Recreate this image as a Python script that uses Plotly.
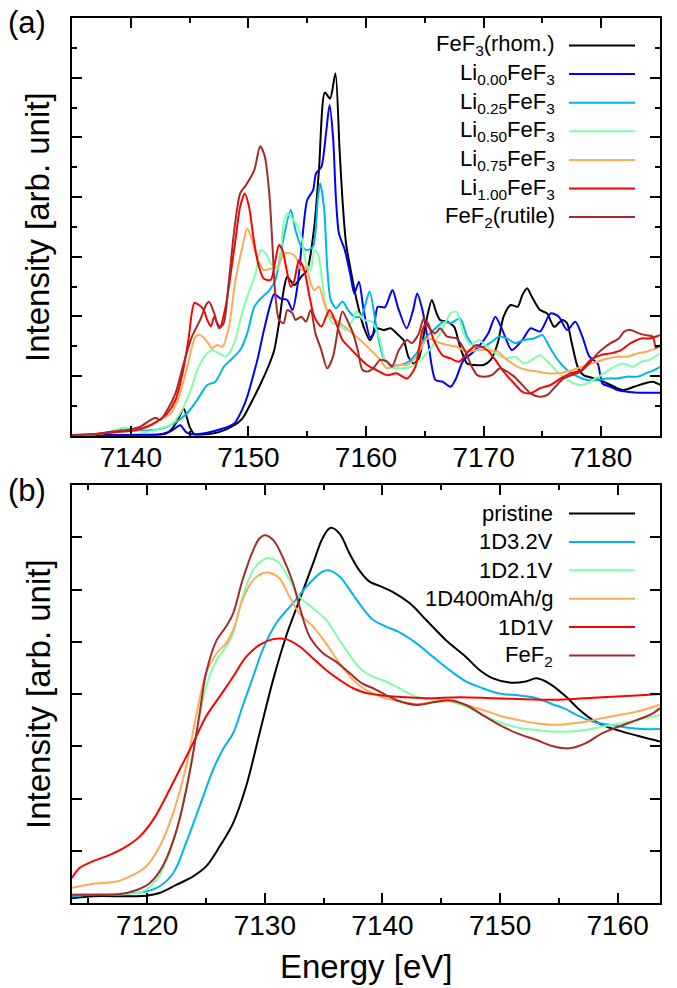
import plotly.graph_objects as go

# ---------------- (a) top panel data ----------------
black_a_x = [7135, 7138, 7141, 7142.5, 7143.3, 7143.9, 7144.5, 7145.0, 7145.4, 7146.5, 7147.5, 7148.8, 7149.5, 7150.2,
             7151.05, 7151.8, 7152.2, 7152.6, 7153.0, 7153.3, 7153.9, 7154.5, 7155.0, 7155.6, 7156.0, 7156.5, 7156.95,
             7157.4, 7157.75, 7158.0, 7158.3, 7158.7, 7159.2, 7159.8, 7160.35, 7160.9, 7161.5, 7162.1, 7162.6, 7163.2,
             7163.6, 7164.05, 7164.5, 7165.1, 7165.6, 7166.0, 7166.3, 7166.9, 7167.5, 7168.0, 7168.6, 7169.2, 7170.0,
             7170.6, 7171.2, 7171.7, 7172.3, 7172.9, 7173.3, 7173.7, 7174.1, 7174.8, 7175.4, 7176.0, 7176.7, 7177.1,
             7177.5, 7178.0, 7178.5, 7179.4, 7180.2, 7181.1, 7181.9, 7182.8, 7183.65, 7184.4, 7185]
black_a_y = [0.02, 0.02, 0.03, 0.05, 0.15, 0.45, 0.9, 0.3, 0.05, 0.05, 0.12, 0.35, 0.58, 1.08,
             1.75, 2.42, 2.87, 3.77, 4.88, 5.33, 5.05, 5.33, 5.55, 7.0, 8.9, 11.5, 11.3,
             12.15, 9.6, 7.9, 6.45, 5.55, 4.55, 3.65, 3.2, 3.6, 3.54, 3.6, 3.43, 3.2,
             2.65, 2.42, 2.6, 3.8, 4.55, 4.1, 3.88, 3.82, 3.65, 2.98, 2.42, 2.37, 2.37,
             2.54, 3.1, 3.99, 4.38, 4.32, 4.72, 4.94, 4.66, 4.21, 4.1, 3.65, 3.88, 3.77,
             3.1, 2.31, 2.03, 1.92, 1.81, 1.64, 1.53, 1.64, 1.75, 1.81, 1.7]

blue_a_x = [7135, 7140, 7142.8, 7143.6, 7144.2, 7144.7, 7145.3, 7146.5, 7147.5, 7148.8, 7149.5, 7149.9, 7150.4, 7150.8,
            7151.3, 7151.8, 7152.2, 7152.7, 7153.3, 7153.75, 7154.2, 7154.6, 7155.0, 7155.5, 7155.75, 7156.2, 7156.6,
            7156.9, 7157.2, 7157.45, 7157.7, 7158.2, 7158.7, 7159.0, 7159.4, 7159.8, 7160.35, 7160.6, 7161.0, 7161.6,
            7162.25, 7162.7, 7163.45, 7164.0, 7164.35, 7164.8, 7165.3, 7165.9, 7166.5, 7167.2, 7167.6, 7168.3, 7169.0,
            7169.7, 7170.4, 7171.0, 7171.6, 7172.4, 7173.3, 7174.0, 7174.8, 7175.7, 7176.4, 7177.1, 7177.8, 7178.4,
            7179.0, 7179.7, 7180.1, 7180.8, 7181.4, 7182.2, 7183.1, 7184.1, 7185]
blue_a_y = [0.02, 0.02, 0.05, 0.2, 0.35, 0.12, 0.04, 0.1, 0.2, 0.41, 0.9, 1.31, 2.0, 2.6,
            3.5, 4.3, 4.75, 4.6, 4.55, 4.21, 5.1, 6.67, 7.9, 8.23, 8.79, 9.0, 10.13,
            11.08, 10.0, 7.9, 6.78, 6.22, 5.33, 4.77, 5.16, 4.21, 3.3, 3.4, 4.32, 4.3,
            4.88, 4.32, 3.6, 4.2, 4.77, 4.21, 3.1, 1.87, 1.81, 1.64, 1.87, 2.54, 2.76,
            3.04, 3.43, 3.99, 3.54, 2.87, 3.21, 3.6, 3.49, 4.1, 3.99, 3.54, 3.82, 3.32,
            2.65, 2.42, 1.75, 1.64, 1.53, 1.47, 1.44, 1.44, 1.44]

lblue_a_x = [7135, 7137, 7138.5, 7139.4, 7140.1, 7141.1, 7142.2, 7143.1, 7143.9, 7144.8, 7145.65, 7146.5, 7147.2,
             7147.9, 7148.5, 7149.3, 7149.9, 7150.5, 7151.05, 7151.8, 7152.3, 7152.9, 7153.6, 7154.0, 7154.5, 7155.0,
             7155.5, 7155.9, 7156.1, 7156.45, 7156.7, 7157.0, 7157.45, 7158.0, 7158.5, 7159.0, 7159.6, 7160.3, 7160.9,
             7161.5, 7162.1, 7162.9, 7163.6, 7164.3, 7164.9, 7165.75, 7166.6, 7167.2, 7168.0, 7168.6, 7169.3, 7170.0,
             7170.7, 7171.3, 7172.0, 7172.7, 7173.4, 7174.3, 7175.0, 7175.6, 7176.3, 7177.1, 7178.0, 7178.8, 7179.7,
             7180.5, 7181.4, 7182.2, 7183.1, 7183.8, 7184.5, 7185]
lblue_a_y = [0.02, 0.05, 0.12, 0.25, 0.19, 0.17, 0.21, 0.3, 0.47, 0.75, 1.2, 1.7, 1.81,
             2.31, 2.54, 2.87, 3.43, 4.32, 4.6, 4.88, 5.22, 6.45, 7.57, 6.9, 6.34, 6.22,
             6.34, 7.9, 8.46, 7.57, 5.66, 4.55, 4.27, 4.5, 4.2, 3.99, 4.0, 4.83, 3.6,
             2.6, 2.37, 2.37, 2.48, 2.76, 3.21, 3.54, 3.82, 3.77, 3.93, 3.32, 2.98, 2.98,
             3.15, 3.32, 3.26, 3.1, 3.21, 3.26, 3.37, 2.98, 2.54, 2.2, 1.98, 1.87, 1.87,
             1.92, 1.92, 1.98, 1.98, 2.09, 2.2, 2.31]

green_a_x = [7135, 7137, 7138.2, 7138.8, 7139.4, 7140.25, 7141.4, 7142.5, 7143.4, 7144.2, 7145.1, 7145.65, 7146.35,
             7146.9, 7147.5, 7148.1, 7148.8, 7149.3, 7149.9, 7150.6, 7151.05, 7151.5, 7151.9, 7152.5, 7153.0, 7153.3,
             7153.9, 7154.5, 7154.9, 7155.3, 7155.6, 7155.9, 7156.3, 7156.7, 7157.2, 7157.7, 7158.3, 7158.9, 7159.2,
             7159.8, 7160.5, 7161.1, 7161.6, 7162.1, 7162.9, 7163.8, 7164.6, 7165.5, 7166.3, 7167.2, 7167.7, 7168.3,
             7168.9, 7169.6, 7170.3, 7171.0, 7171.9, 7172.7, 7173.4, 7174.1, 7174.8, 7175.6, 7176.4, 7177.4, 7178.1,
             7178.8, 7179.5, 7180.25, 7181.1, 7181.9, 7182.7, 7183.4, 7184.1, 7185]
green_a_y = [0.02, 0.05, 0.12, 0.21, 0.27, 0.17, 0.13, 0.25, 0.36, 0.75, 1.53, 2.2, 2.7,
             2.87, 2.76, 2.65, 3.1, 3.88, 4.66, 5.44, 6.22, 6.1, 5.78, 5.6, 7.12, 7.45,
             7.2, 6.67, 5.78, 5.55, 6.22, 6.11, 5.1, 4.1, 3.77, 3.7, 3.54, 3.9, 4.16,
             3.88, 3.82, 3.32, 2.54, 2.31, 2.26, 2.31, 2.54, 2.93, 3.43, 4.1, 4.16, 3.43,
             3.04, 3.21, 2.98, 2.76, 2.59, 2.65, 2.42, 2.54, 2.7, 2.42, 2.09, 1.81, 1.7,
             1.75, 1.92, 2.09, 2.31, 2.42, 2.31, 2.48, 2.54, 2.76]

orange_a_x = [7135, 7137, 7138.3, 7139.7, 7140.8, 7141.7, 7142.5, 7143.4, 7144.1, 7144.8, 7145.5, 7145.9, 7146.5,
              7146.9, 7147.35, 7147.8, 7148.35, 7148.9, 7149.5, 7149.9, 7150.3, 7150.8, 7151.3, 7151.9, 7152.5, 7153.0,
              7153.6, 7154.0, 7154.5, 7154.9, 7155.3, 7155.6, 7156.0, 7156.45, 7157.0, 7157.7, 7158.65, 7159.5, 7160.4,
              7161.2, 7161.8, 7162.6, 7163.5, 7164.3, 7165.2, 7166.0, 7166.9, 7167.7, 7168.6, 7169.45, 7170.3, 7171.2,
              7172.0, 7172.9, 7173.7, 7174.6, 7175.4, 7176.3, 7177.1, 7178.0, 7178.8, 7179.7, 7180.5, 7181.4, 7182.2,
              7183.1, 7183.9, 7185]
orange_a_y = [0.02, 0.06, 0.13, 0.17, 0.25, 0.36, 0.53, 0.75, 1.31, 2.31, 3.32, 3.38, 3.15,
              2.93, 3.04, 2.98, 3.66, 5.22, 6.34, 6.95, 6.56, 5.89, 5.55, 5.6, 5.66, 6.11,
              6.11, 6.0, 5.55, 5.66, 5.1, 4.88, 5.0, 4.44, 3.99, 3.8, 3.49, 3.21, 2.87,
              2.54, 2.26, 2.37, 2.37, 2.65, 3.26, 3.15, 3.04, 2.98, 2.82, 2.87, 2.87, 2.82,
              2.54, 2.31, 2.2, 2.15, 2.09, 2.09, 2.15, 2.26, 2.37, 2.48, 2.59, 2.65, 2.65,
              2.76, 2.82, 2.98]

red_a_x = [7135, 7137, 7139.1, 7140.25, 7141.4, 7142.2, 7143.1, 7143.8, 7144.4, 7144.9, 7145.4, 7145.8, 7146.2,
           7146.5, 7146.8, 7147.1, 7147.35, 7147.6, 7148.06, 7148.5, 7148.9, 7149.3, 7149.7, 7150.05, 7150.5, 7150.9,
           7151.3, 7151.9, 7152.3, 7152.6, 7152.9, 7153.2, 7153.6, 7153.9, 7154.3, 7154.75, 7155.2, 7155.6, 7156.2,
           7156.9, 7157.45, 7158.0, 7158.6, 7159.2, 7160.1, 7160.9, 7161.8, 7162.6, 7163.5, 7164.2, 7164.8, 7165.2,
           7165.75, 7166.5, 7167.2, 7167.9, 7168.7, 7169.4, 7170.3, 7171.0, 7171.7, 7172.6, 7173.3, 7174.0, 7174.8,
           7175.7, 7176.55, 7177.4, 7178.3, 7179.1, 7179.96, 7180.8, 7181.7, 7182.5, 7183.4, 7184.1, 7185]
red_a_y = [0.02, 0.05, 0.13, 0.17, 0.3, 0.47, 0.75, 1.2, 2.09, 3.21, 4.44, 4.38, 4.21,
           3.88, 3.66, 3.99, 3.77, 3.66, 4.32, 5.44, 6.56, 7.68, 8.12, 7.68, 6.45, 5.66,
           5.27, 5.22, 5.89, 6.39, 6.22, 5.66, 4.99, 5.2, 5.89, 5.55, 4.66, 3.99, 3.66,
           4.21, 3.77, 3.21, 2.95, 2.7, 2.37, 2.2, 2.03, 2.09, 1.92, 2.31, 3.54, 3.82,
           3.21, 2.7, 2.59, 2.48, 2.82, 3.04, 2.87, 2.54, 2.15, 1.75, 1.47, 1.42, 1.59,
           1.7, 1.92, 2.09, 2.2, 2.54, 2.7, 2.76, 2.87, 3.1, 3.26, 3.26, 3.37]

brown_a_x = [7135, 7137, 7138.3, 7139.7, 7140.8, 7141.7, 7142.1, 7142.5, 7143.1, 7143.8, 7144.5, 7145.2, 7145.9,
             7146.4, 7146.65, 7147.1, 7147.5, 7147.9, 7148.35, 7148.8, 7149.3, 7149.8, 7150.5, 7151.0, 7151.4, 7151.8,
             7152.05, 7152.3, 7152.6, 7153.0, 7153.3, 7153.75, 7154.0, 7154.5, 7154.9, 7155.3, 7155.7, 7156.2, 7156.7,
             7157.2, 7157.6, 7158.0, 7158.4, 7158.9, 7159.3, 7159.7, 7160.2, 7160.7, 7161.2, 7161.8, 7162.2, 7162.8,
             7163.5, 7163.9, 7164.5, 7164.9, 7165.3, 7165.9, 7166.3, 7166.9, 7167.7, 7168.45, 7169.0, 7169.45, 7170.0,
             7170.7, 7171.4, 7172.0, 7172.6, 7173.3, 7174.0, 7174.7, 7175.4, 7176.1, 7176.8, 7177.5, 7178.25, 7178.97,
             7179.7, 7180.2, 7180.8, 7181.5, 7181.95, 7182.5, 7183.2, 7183.8, 7184.4, 7184.65, 7185]
brown_a_y = [0.02, 0.06, 0.13, 0.19, 0.3, 0.53, 0.6, 0.53, 0.86, 1.42, 2.43, 3.32, 3.88,
             4.38, 4.49, 4.1, 3.6, 3.77, 5.22, 6.9, 8.12, 8.4, 8.9, 9.7, 9.35, 8.0,
             6.34, 4.66, 3.88, 3.77, 4.21, 4.1, 3.88, 3.99, 3.82, 4.21, 3.43, 2.87, 2.26,
             2.65, 3.54, 4.16, 3.88, 3.43, 2.87, 2.2, 2.15, 2.3, 2.54, 2.48, 2.31, 2.87,
             3.21, 3.1, 3.43, 3.93, 3.65, 3.43, 3.6, 3.32, 3.26, 2.82, 2.31, 2.03, 1.98,
             2.03, 2.26, 2.15, 1.98, 1.7, 1.42, 1.31, 1.36, 1.64, 1.92, 2.03, 2.15, 2.42,
             2.76, 2.93, 3.1, 3.26, 3.49, 3.54, 3.43, 3.37, 3.32, 2.95, 3.04]

# ---------------- (b) bottom panel data ----------------
black_b_x = [7113.6, 7115.4, 7118.2, 7119.9, 7121.05, 7122.5, 7123.9, 7125.0, 7126.15, 7127.3, 7128.4, 7129.55, 7130.7,
             7131.8, 7132.95, 7134.1, 7134.95, 7135.6, 7136.35, 7137.2, 7138.05, 7138.9, 7139.75, 7140.9, 7142.3,
             7143.7, 7145.4, 7147.1, 7148.25, 7149.4, 7150.8, 7152.2, 7153.1, 7154.2, 7155.6, 7156.75, 7157.9, 7159.0,
             7160.4, 7161.85, 7163.6]
black_b_y = [0.09, 0.13, 0.13, 0.14, 0.19, 0.35, 0.51, 0.7, 1.08, 1.53, 2.23, 3.25, 4.27,
             5.1, 5.8, 6.5, 7.0, 7.18, 7.07, 6.69, 6.36, 6.15, 6.07, 5.95, 5.74,
             5.42, 5.03, 4.71, 4.46, 4.3, 4.22, 4.24, 4.3, 4.2, 3.95, 3.7, 3.5, 3.38,
             3.28, 3.19, 3.09]

lblue_b_x = [7113.6, 7115.4, 7118.2, 7119.9, 7121.05, 7122.2, 7123.3, 7124.45, 7125.6, 7126.4, 7127.3, 7128.1, 7129.0,
             7129.8, 7130.95, 7132.4, 7133.8, 7134.9, 7135.4, 7136.35, 7137.5, 7138.3, 7139.2, 7140.3, 7141.45, 7142.9,
             7144.3, 7145.7, 7147.1, 7148.5, 7149.95, 7151.65, 7153.1, 7154.5, 7155.5, 7156.5, 7157.9, 7159.3, 7160.7,
             7162.1, 7163.6]
lblue_b_y = [0.13, 0.16, 0.18, 0.22, 0.32, 0.57, 1.15, 1.85, 2.55, 2.93, 3.25, 3.76, 4.33,
             4.84, 5.35, 5.74, 6.12, 6.34, 6.37, 6.25, 5.9, 5.65, 5.42, 5.29, 5.18, 4.97,
             4.71, 4.46, 4.24, 4.11, 4.01, 3.97, 3.92, 3.8, 3.72, 3.6, 3.47, 3.41, 3.36,
             3.33, 3.33]

green_b_x = [7113.6, 7115.4, 7118.2, 7119.6, 7120.8, 7121.9, 7123.0, 7124.2, 7125.0, 7125.9, 7126.7, 7127.3, 7128.1,
             7129.0, 7129.8, 7130.4, 7131.25, 7132.1, 7132.95, 7134.1, 7135.2, 7136.35, 7137.5, 7138.3, 7139.2, 7140.3,
             7141.45, 7142.9, 7144.3, 7145.7, 7147.1, 7148.5, 7150.2, 7151.65, 7153.1, 7154.5, 7155.9, 7157.3, 7158.7,
             7160.15, 7161.6, 7163.0, 7163.6]
green_b_y = [0.16, 0.17, 0.17, 0.22, 0.45, 0.96, 1.85, 3.25, 4.14, 4.65, 4.91, 5.16, 5.86,
             6.37, 6.56, 6.6, 6.5, 6.18, 5.86, 5.64, 5.42, 5.03, 4.65, 4.45, 4.33, 4.24,
             4.11, 3.95, 3.89, 3.86, 3.76, 3.6, 3.44, 3.35, 3.31, 3.28, 3.28, 3.31, 3.38,
             3.43, 3.5, 3.57, 3.6]

orange_b_x = [7113.6, 7115.4, 7117.4, 7118.8, 7119.9, 7121.05, 7122.2, 7123.3, 7124.2, 7125.0, 7125.9, 7126.7, 7127.3,
              7128.1, 7129.0, 7129.8, 7130.4, 7131.25, 7132.1, 7132.95, 7134.1, 7135.2, 7136.35, 7137.5, 7138.3, 7139.2,
              7140.3, 7141.45, 7142.9, 7144.3, 7145.7, 7147.1, 7148.5, 7150.2, 7151.65, 7153.1, 7154.5, 7155.9, 7157.3,
              7158.7, 7160.15, 7161.6, 7163.0, 7163.6]
orange_b_y = [0.29, 0.37, 0.41, 0.54, 0.7, 1.08, 1.72, 2.61, 3.63, 4.4, 4.78, 4.97, 5.22,
              5.8, 6.18, 6.31, 6.32, 6.21, 5.86, 5.54, 5.29, 4.97, 4.59, 4.27, 4.12, 4.01,
              3.92, 3.86, 3.81, 3.84, 3.86, 3.79, 3.7, 3.57, 3.5, 3.44, 3.41, 3.43, 3.47,
              3.54, 3.6, 3.66, 3.75, 3.79]

red_b_x = [7113.6, 7114.25, 7115.4, 7116.8, 7118.2, 7119.35, 7120.5, 7121.6, 7122.75, 7123.9, 7125.0, 7126.15, 7127.3,
           7128.4, 7129.55, 7130.7, 7131.8, 7132.95, 7134.1, 7135.2, 7136.35, 7137.5, 7138.6, 7139.75, 7140.9, 7143.7,
           7146.55, 7149.4, 7152.2, 7155.05, 7157.9, 7160.7, 7163.6]
red_b_y = [0.48, 0.67, 0.8, 0.92, 1.08, 1.27, 1.59, 2.04, 2.55, 3.06, 3.57, 3.95, 4.33,
           4.71, 4.94, 5.05, 5.05, 4.91, 4.68, 4.46, 4.27, 4.11, 4.02, 3.98, 3.95, 3.92,
           3.94, 3.92, 3.9, 3.89, 3.93, 3.96, 4.0]

brown_b_x = [7113.6, 7115.4, 7117.65, 7119.1, 7120.2, 7121.3, 7122.5, 7123.6, 7124.45, 7125.0, 7125.9, 7126.7, 7127.3,
             7128.1, 7129.0, 7129.55, 7129.97, 7130.7, 7131.5, 7132.4, 7132.95, 7133.8, 7134.95, 7136.05, 7137.2,
             7138.3, 7139.2, 7140.3, 7141.45, 7142.9, 7144.3, 7145.7, 7147.1, 7148.5, 7149.95, 7151.4, 7153.1, 7154.5,
             7155.9, 7157.3, 7158.7, 7160.15, 7161.6, 7163.0, 7163.6]
brown_b_y = [0.16, 0.16, 0.17, 0.25, 0.38, 0.7, 1.4, 2.49, 3.63, 4.4, 5.03, 5.29, 5.54,
             6.18, 6.75, 6.98, 7.04, 6.95, 6.63, 6.12, 5.67, 5.1, 4.78, 4.62, 4.4,
             4.2, 4.11, 3.98, 3.86, 3.79, 3.84, 3.88, 3.79, 3.6, 3.41, 3.25, 3.12, 3.0,
             2.96, 3.06, 3.25, 3.38, 3.5, 3.63, 3.73]

names_a = ["FeF<sub>3</sub>(rhom.)", "Li<sub>0.00</sub>FeF<sub>3</sub>", "Li<sub>0.25</sub>FeF<sub>3</sub>",
           "Li<sub>0.50</sub>FeF<sub>3</sub>", "Li<sub>0.75</sub>FeF<sub>3</sub>", "Li<sub>1.00</sub>FeF<sub>3</sub>",
           "FeF<sub>2</sub>(rutile)"]
names_b = ["pristine", "1D3.2V", "1D2.1V", "1D400mAh/g", "1D1V", "FeF<sub>2</sub>"]

colors_a = ["#000000", "#0000FF", "#00B4EE", "#80FFA8", "#FFAA55", "#FF0000", "#A52A2A"]
colors_b = ["#000000", "#00B4EE", "#80FFA8", "#FFAA55", "#FF0000", "#A52A2A"]

series_a = [(black_a_x, black_a_y), (blue_a_x, blue_a_y), (lblue_a_x, lblue_a_y), (green_a_x, green_a_y),
            (orange_a_x, orange_a_y), (red_a_x, red_a_y), (brown_a_x, brown_a_y)]
series_b = [(black_b_x, black_b_y), (lblue_b_x, lblue_b_y), (green_b_x, green_b_y),
            (orange_b_x, orange_b_y), (red_b_x, red_b_y), (brown_b_x, brown_b_y)]

FONT = "Liberation Sans, Arial, sans-serif"
W, H = 677, 988
ML, MR, MT, MB = 72, 17, 18, 85
PW, PH = W - ML - MR, H - MT - MB


def px2x(px):
    return (px - ML) / PW


def py2y(py):
    return (H - MB - py) / PH


fig = go.Figure()
for (xs, ys), nm, c in zip(series_a, names_a, colors_a):
    fig.add_trace(go.Scatter(x=xs, y=ys, mode="lines", name=nm, xaxis="x", yaxis="y",
                             line=dict(color=c, width=2, shape="spline", smoothing=0.7), showlegend=False))
for (xs, ys), nm, c in zip(series_b, names_b, colors_b):
    fig.add_trace(go.Scatter(x=xs, y=ys, mode="lines", name=nm, xaxis="x2", yaxis="y2",
                             line=dict(color=c, width=2, shape="spline", smoothing=1.0), showlegend=False))

axis_common = dict(showline=True, linewidth=2, linecolor="black", mirror="allticks", ticks="inside",
                   tickwidth=2, tickcolor="black", showgrid=False, zeroline=False,
                   tickfont=dict(family=FONT, size=28, color="black"))

fig.update_layout(
    width=W, height=H, autosize=False,
    margin=dict(l=ML, r=MR, t=MT, b=MB),
    paper_bgcolor="white", plot_bgcolor="white",
    font=dict(family=FONT, color="black"),
    xaxis=dict(domain=[0, 1], anchor="y", range=[7135, 7185], tick0=7140, dtick=10, ticklen=10,
               ticklabelstandoff=-4,
               minor=dict(dtick=5, tick0=7135, ticks="inside", ticklen=5, tickwidth=2, tickcolor="black"),
               **axis_common),
    yaxis=dict(domain=[py2y(435.7), 1], anchor="x", range=[0, 14], dtick=2, ticklen=10, showticklabels=False,
               minor=dict(dtick=1, ticks="inside", ticklen=5, tickwidth=2, tickcolor="black"),
               **axis_common),
    xaxis2=dict(domain=[0, 1], anchor="y2", range=[7113.6, 7163.6], tick0=7120, dtick=10, ticklen=10,
                ticklabelstandoff=-4,
                minor=dict(dtick=5, tick0=7115, ticks="inside", ticklen=5, tickwidth=2, tickcolor="black"),
                **axis_common),
    yaxis2=dict(domain=[0, py2y(485)], anchor="x2", range=[0, 8], dtick=1, ticklen=10, showticklabels=False,
                **axis_common),
)

ann = []
shapes = []
# legend (a)
for i, (nm, c) in enumerate(zip(names_a, colors_a)):
    yy = py2y(45.5 + i * 28.6)
    ann.append(dict(x=px2x(557), y=yy, xref="paper", yref="paper", text=nm, showarrow=False,
                    xanchor="right", yanchor="middle", font=dict(family=FONT, size=22, color="black")))
    shapes.append(dict(type="line", xref="paper", yref="paper", x0=px2x(569), x1=px2x(635), y0=yy, y1=yy,
                       line=dict(color=c, width=2)))
# legend (b)
for i, (nm, c) in enumerate(zip(names_b, colors_b)):
    yy = py2y(513.5 + i * 28.4)
    ann.append(dict(x=px2x(555), y=yy, xref="paper", yref="paper", text=nm, showarrow=False,
                    xanchor="right", yanchor="middle", font=dict(family=FONT, size=22, color="black")))
    shapes.append(dict(type="line", xref="paper", yref="paper", x0=px2x(569), x1=px2x(635), y0=yy, y1=yy,
                       line=dict(color=c, width=2)))

# panel labels and axis titles
ann.append(dict(x=px2x(27), y=py2y(22), xref="paper", yref="paper", text="(a)", showarrow=False,
                xanchor="center", yanchor="middle", font=dict(family=FONT, size=31, color="black")))
ann.append(dict(x=px2x(27), y=py2y(491), xref="paper", yref="paper", text="(b)", showarrow=False,
                xanchor="center", yanchor="middle", font=dict(family=FONT, size=31, color="black")))
for cy in (227, 694):
    ann.append(dict(x=px2x(38), y=py2y(cy), xref="paper", yref="paper", text="Intensity [arb. unit]",
                    showarrow=False, textangle=-90, xanchor="center", yanchor="middle",
                    font=dict(family=FONT, size=33, color="black")))
ann.append(dict(x=px2x(366), y=py2y(966), xref="paper", yref="paper", text="Energy [eV]", showarrow=False,
                xanchor="center", yanchor="middle", font=dict(family=FONT, size=33, color="black")))

fig.update_layout(annotations=ann, shapes=shapes)
fig.write_html("out.html")
